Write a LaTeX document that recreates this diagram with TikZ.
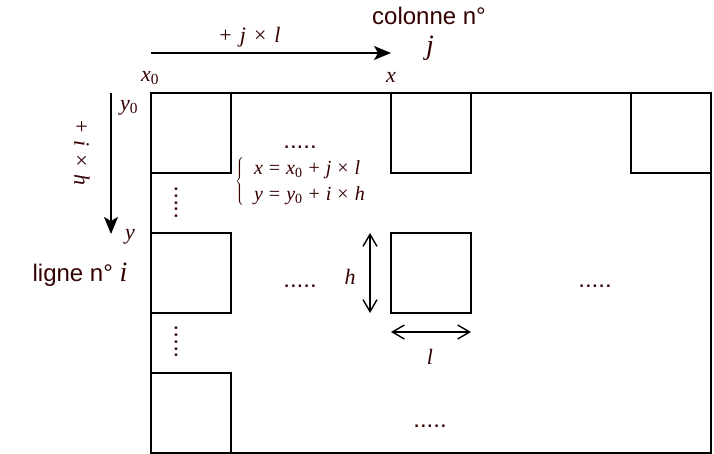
\documentclass[tikz,border=0pt]{standalone}
\usepackage{fontspec}
\setmainfont{Liberation Serif}
\setsansfont{Liberation Sans}
\usetikzlibrary{arrows.meta}
\definecolor{txtbrown}{HTML}{330000}
\newcommand{\mv}[1]{\textit{#1}}
\newcommand{\gap}{\hspace{8pt}}
\newcommand{\egap}{\hspace{6pt}}
\begin{document}
\begin{tikzpicture}[x=1pt,y=-1pt,
  frame/.style={draw=black, line width=1.4pt, inner sep=0pt, outer sep=0pt},
  sq/.style={frame, minimum width=80pt, minimum height=80pt, anchor=north west},
  mainarrow/.style={draw=black, line width=1.4pt, -{Stealth[length=17pt,width=14pt,inset=4pt]}},
  dimarrow/.style={draw=black, line width=1.4pt, {Straight Barb[length=12pt,width=14pt]}-{Straight Barb[length=12pt,width=14pt]}},
  sanslbl/.style={text=txtbrown, font=\sffamily\fontsize{24}{28}\selectfont, inner sep=0pt},
  mathlbl/.style={text=txtbrown, font=\fontsize{22}{26}\selectfont, inner sep=0pt},
  dotslbl/.style={text=txtbrown, font=\sffamily\fontsize{24}{28}\selectfont, inner sep=0pt}
]
\useasboundingbox (0,0) rectangle (714,454);

% main grid
\node[frame, minimum width=560pt, minimum height=360pt, anchor=north west] (grid) at (151,93) {};
\node[sq] (s1) at (151,93) {};
\node[sq] (s2) at (391,93) {};
\node[sq] (s3) at (631,93) {};
\node[sq] (s4) at (151,233) {};
\node[sq] (s5) at (391,233) {};
\node[sq] (s6) at (151,373) {};

% horizontal arrow
\coordinate (hs) at (151,53);
\coordinate (he) at (391,53);
\draw[mainarrow] (hs) -- (he);
\node[mathlbl] (jl) at (250,37) {+\gap\mv{j}\gap×\gap\mv{l}};
\node[sanslbl] (col) at (429,16) {colonne n°};
\node[text=txtbrown, font=\fontsize{28}{30}\selectfont, inner sep=0pt] (jj) at (430,48) {\mv{j}};
\node[mathlbl] (x0) at (150,78) {\mv{x}\textsubscript{0}};
\node[mathlbl] (xx) at (391,77) {\mv{x}};

% vertical arrow
\coordinate (vs) at (111,93);
\coordinate (ve) at (111,234);
\draw[mainarrow] (vs) -- (ve);
\node[mathlbl] (y0) at (129,108) {\mv{y}\textsubscript{0}};
\node[mathlbl] (yy) at (130,237) {\mv{y}};
\node[mathlbl, rotate=-90] (ih) at (82,153) {+\gap\mv{i}\gap×\gap\mv{h}};
\node[sanslbl] (lig) at (80,275) {ligne n° {\rmfamily\fontsize{28}{30}\selectfont\mv{i}}};

% dots
\node[dotslbl] (d1) at (300,147) {.....};
\node[dotslbl] (d2) at (300,286) {.....};
\node[dotslbl] (d3) at (595,286) {.....};
\node[dotslbl] (d4) at (430,426) {.....};
\node[dotslbl, rotate=90] (d5) at (176,203) {.....};
\node[dotslbl, rotate=90] (d6) at (176,342) {.....};

% equations
\node[text=txtbrown, inner sep=0pt, font=\fontsize{17}{20}\selectfont, anchor=west] (eq) at (235,182) {$\left\{\vcenter{\hbox{\fontsize{20}{26}\selectfont\begin{tabular}{@{\hspace{10pt}}l@{}}
\mv{x}\egap=\egap\mv{x}\textsubscript{0}\egap+\egap\mv{j}\egap×\egap\mv{l}\\
\mv{y}\egap=\egap\mv{y}\textsubscript{0}\egap+\egap\mv{i}\egap×\egap\mv{h}
\end{tabular}}}\right.$};

% dimension arrows
\coordinate (ht) at (370,233);
\coordinate (hb) at (370,313);
\draw[dimarrow] (ht) -- (hb);
\node[mathlbl] (hl) at (350,277) {\mv{h}};
\coordinate (ll) at (391,332);
\coordinate (lr) at (471,332);
\draw[dimarrow] (ll) -- (lr);
\node[mathlbl] (lt) at (430,357) {\mv{l}};
\end{tikzpicture}
\end{document}
